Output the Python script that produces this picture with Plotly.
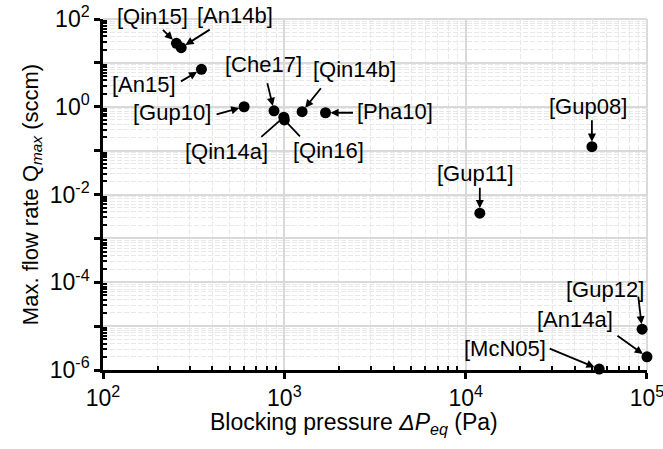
import math
import plotly.graph_objects as go

# Data: blocking pressure (Pa) and max flow rate (sccm)
labels = ["[Qin15]", "[An14b]", "[An15]", "[Gup10]", "[Che17]", "[Qin14a]", "[Qin16]",
          "[Qin14b]", "[Pha10]", "[Gup08]", "[Gup11]", "[Gup12]", "[An14a]", "[McN05]"]
pressure = [254, 270, 349, 600, 877, 993, 1000, 1253, 1687, 49700, 11970, 94000, 100000, 54500]
flow = [27.9, 22.2, 7.15, 1.0, 0.81, 0.58, 0.50, 0.77, 0.73, 0.123, 0.00375, 8.5e-6, 2.0e-6, 1.05e-6]

x_tickvals = [1e2, 1e3, 1e4, 1e5]
x_ticktext = ["10<sup>2</sup>", "10<sup>3</sup>", "10<sup>4</sup>", "10<sup>5</sup>"]
y_tickvals = [1e-6, 1e-5, 1e-4, 1e-3, 1e-2, 1e-1, 1e0, 1e1, 1e2]
y_ticktext = ["10<sup>-6</sup>", "", "10<sup>-4</sup>", "", "10<sup>-2</sup>", "",
              "10<sup>0</sup>", "", "10<sup>2</sup>"]

# Layout: label offsets (text centre relative to point, px) and arrow tail offsets
text_dx = [-24, 54, -57, -72, -11, -57, 44, 52, 69, -4, -4, -37, -72, -94]
text_dy = [27, 32, -15, -6, 46, -34, -31, 42, 1, 40, 40, 40, 37, 21]
arrow_ax = [-15, 30, -22, -29, -7, -24, 17, 20, 29, 0, 0, -4, -31, -51]
arrow_ay = [-15, -19, 13, 8, -29, 21, 18, -25, 0, -28, -27, -34, -22, -21]
arrow_head = [2, 2, 2, 2, 2, 0, 0, 2, 2, 2, 2, 2, 2, 2]

FONT = "Arial, Liberation Sans, sans-serif"

def minor_vals(lo, hi):
    vals = []
    for e in range(lo, hi):
        for k in range(2, 10):
            vals.append(k * 10.0 ** e)
    return vals

fig = go.Figure()
fig.add_trace(go.Scatter(
    x=pressure, y=flow, mode="markers",
    marker=dict(color="black", size=11),
    cliponaxis=False, showlegend=False,
))

annotations = []
for i, lab in enumerate(labels):
    lx, ly = math.log10(pressure[i]), math.log10(flow[i])
    annotations.append(dict(
        x=lx, y=ly, xref="x", yref="y", text="",
        showarrow=True, ax=arrow_ax[i], ay=arrow_ay[i],
        arrowhead=arrow_head[i], arrowsize=0.9, arrowwidth=1.8,
        arrowcolor="black", standoff=5 if arrow_head[i] else 0,
    ))
    annotations.append(dict(
        x=lx, y=ly, xref="x", yref="y", text=lab,
        showarrow=False, xshift=text_dx[i], yshift=text_dy[i],
        xanchor="center", yanchor="middle", borderpad=0,
        font=dict(family=FONT, size=22, color="black"),
    ))

# x-axis title as annotation (centred slightly left of plot centre, as in reference)
annotations.append(dict(
    x=(354 - 103) / (647 - 103), y=0, xref="paper", yref="paper",
    yshift=-53, xanchor="center", yanchor="middle", showarrow=False,
    text="Blocking pressure <i>ΔP<sub>eq</sub></i> (Pa)",
    font=dict(family=FONT, size=23, color="black"),
))

axis_common = dict(
    type="log", automargin=False,
    showline=True, linecolor="black", linewidth=2.5,
    ticks="outside", ticklen=6, tickwidth=2.5, tickcolor="black",
    showgrid=True, gridcolor="#d9d9d9", gridwidth=2,
    zeroline=False, mirror=False, ticklabeloverflow="allow",
    tickfont=dict(family=FONT, size=23, color="black"),
)

minor_common = dict(
    tickmode="array", ticks="inside", ticklen=4, tickwidth=2, tickcolor="black",
    showgrid=True, gridcolor="#e8e8e8", gridwidth=1, griddash="5px,2px",
)

fig.update_layout(
    width=663, height=449,
    margin=dict(l=103, r=16, t=19, b=79),
    paper_bgcolor="white", plot_bgcolor="white",
    font=dict(family=FONT, color="black"),
    annotations=annotations,
    shapes=[
        dict(type="line", xref="paper", yref="paper", x0=1, x1=1, y0=0, y1=1,
             line=dict(color="#d9d9d9", width=2), layer="below"),
        dict(type="line", xref="paper", yref="paper", x0=0, x1=1, y0=1, y1=1,
             line=dict(color="#d9d9d9", width=2), layer="below"),
    ],
    xaxis=dict(
        **axis_common,
        range=[1.9999, 5.0001],
        tickmode="array", tickvals=x_tickvals, ticktext=x_ticktext,
        minor=dict(**minor_common, tickvals=minor_vals(2, 5)),
    ),
    yaxis=dict(
        **axis_common,
        range=[-6.0001, 2.0001],
        tickmode="array", tickvals=y_tickvals, ticktext=y_ticktext,
        minor=dict(**minor_common, tickvals=minor_vals(-6, 2)),
        title=dict(text="Max. flow rate Q<sub><i>max</i></sub> (sccm)",
                   font=dict(family=FONT, size=22, color="black"), standoff=6),
    ),
)

fig.write_html("out.html")
